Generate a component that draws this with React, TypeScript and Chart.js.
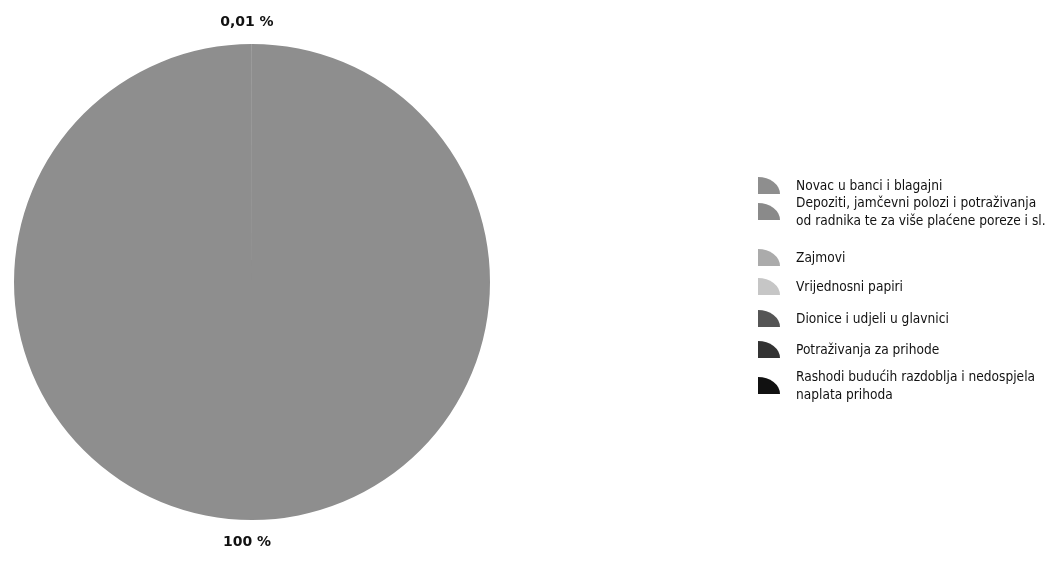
import React, { useEffect, useRef } from "react";
import { Chart, registerables } from "chart.js";

Chart.register(...registerables);

const categories: string[][] = [
  ["Novac u banci i blagajni"],
  ["Depoziti, jamčevni polozi i potraživanja", "od radnika te za više plaćene poreze i sl."],
  ["Zajmovi"],
  ["Vrijednosni papiri"],
  ["Dionice i udjeli u glavnici"],
  ["Potraživanja za prihode"],
  ["Rashodi budućih razdoblja i nedospjela", "naplata prihoda"],
];
const shares: number[] = [99.99, 0.01, 0, 0, 0, 0, 0];
const valueLabels: string[] = ["100 %", "0,01 %", "", "", "", "", ""];
const colors: string[] = ["#8e8e8e", "#8a8a8a", "#ababab", "#c6c6c6", "#555555", "#333333", "#111111"];

const FONT = '"DejaVu Sans Condensed", "DejaVu Sans", sans-serif';

const labelPlugin = {
  id: "sliceLabels",
  afterDatasetsDraw(chart: any) {
    const ctx = chart.ctx;
    const meta = chart.getDatasetMeta(0);
    ctx.save();
    ctx.font = `bold 14px "DejaVu Sans", sans-serif`;
    ctx.fillStyle = "#111";
    ctx.textAlign = "center";
    ctx.textBaseline = "middle";
    meta.data.forEach((arc: any, i: number) => {
      const txt = valueLabels[i];
      if (!txt) return;
      const p = arc.getProps(["x", "y", "startAngle", "endAngle", "outerRadius"], true);
      const mid = (p.startAngle + p.endAngle) / 2;
      const r = p.outerRadius + 22;
      ctx.fillText(txt, p.x - 5 + Math.cos(mid) * r, p.y + Math.sin(mid) * r);
    });
    ctx.restore();
  },
};

const legendPlugin = {
  id: "sideLegend",
  afterDraw(chart: any) {
    const ctx = chart.ctx;
    const x0 = 758;
    const starts = [186, 203, 258, 287, 319, 350, 377];
    const lineH = 18;
    ctx.save();
    ctx.font = `13.6px ${FONT}`;
    ctx.textAlign = "left";
    ctx.textBaseline = "middle";
    categories.forEach((lines, i) => {
      const y = starts[i];
      const n = lines.length;
      const cy = y + ((n - 1) * lineH) / 2;
      // quarter-circle icon (centre at bottom-left)
      const ix = x0, iy = cy + 8, rx = 22, ry = 17;
      ctx.fillStyle = colors[i];
      ctx.beginPath();
      ctx.moveTo(ix, iy);
      ctx.ellipse(ix, iy, rx, ry, 0, -Math.PI / 2, 0);
      ctx.closePath();
      ctx.fill();
      ctx.fillStyle = "#111";
      lines.forEach((t, k) => ctx.fillText(t, x0 + 38, y + k * lineH));
    });
    ctx.restore();
  },
};

export default function App() {
  const ref = useRef<HTMLCanvasElement | null>(null);
  useEffect(() => {
    document.body.style.margin = "0";
    const c = ref.current!;
    const chart = new Chart(c, {
      type: "pie",
      data: {
        labels: categories.map((l) => l.join(" ")),
        datasets: [
          {
            data: shares,
            backgroundColor: colors,
            borderWidth: 0,
          },
        ],
      },
      options: {
        animation: false,
        responsive: false,
        layout: { padding: { left: 14, right: 563, top: 40, bottom: 46 } },
        plugins: { legend: { display: false }, tooltip: { enabled: false } },
      },
      plugins: [labelPlugin, legendPlugin],
    });
    return () => chart.destroy();
  }, []);
  return (
    <div style={{ width: 1053, height: 570, background: "#fff" }}>
      <canvas ref={ref} width={1053} height={570} style={{ display: "block" }} />
    </div>
  );
}
